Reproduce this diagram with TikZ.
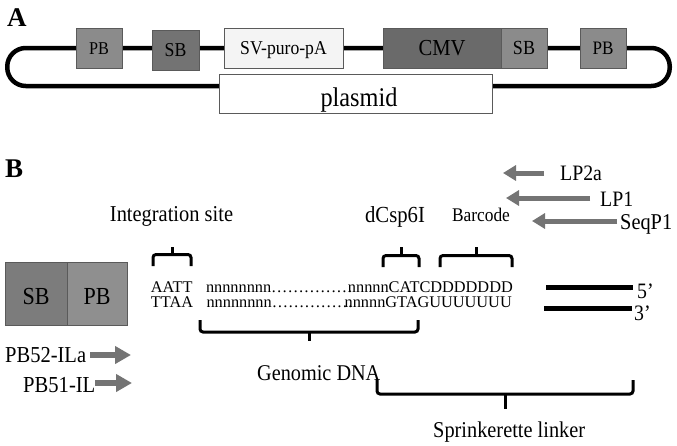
\documentclass[tikz,border=0pt]{standalone}
\usepackage{fontspec}
\setmainfont{Liberation Serif}
\newfontfamily\labfont{Liberation Serif}[FakeStretch=0.9]
\usetikzlibrary{arrows.meta}
\definecolor{pbgray}{HTML}{8B8B8B}
\definecolor{sbdark}{HTML}{737373}
\definecolor{cmvgray}{HTML}{6A6A6A}
\definecolor{svlight}{HTML}{F4F4F4}
\definecolor{bsbgray}{HTML}{7C7C7C}
\definecolor{bpbgray}{HTML}{8F8F8F}
\definecolor{boxline}{HTML}{5A5A5A}
\definecolor{arrowgray}{HTML}{747474}
\newcommand\fs[1]{\fontsize{#1}{#1}\selectfont}
\begin{document}
\begin{tikzpicture}[x=1pt,y=-1pt,
  lbl/.style={inner sep=0pt, font=\labfont},
  box/.style={draw=boxline, line width=0.8pt, inner sep=0pt, minimum height=40pt, font=\labfont, text depth=0pt},
  loopline/.style={line width=4.5pt, rounded corners=18.5pt},
  brk/.style={line width=3pt, rounded corners=3pt},
  brktip/.style={line width=3pt},
  primer/.style={draw=arrowgray, line width=5pt, -{Triangle[length=13pt,width=15pt]}},
  primerb/.style={draw=arrowgray, line width=6pt, -{Triangle[length=16pt,width=17pt]}},
  strand/.style={line width=5pt},
  seq/.style={inner sep=0pt, font=\fs{16.3}}
]
\useasboundingbox (0,0) rectangle (677,445);
\fill[white] (0,0) rectangle (677,445);

% ---------- Part A ----------
\node[inner sep=0pt, anchor=base west, font=\fs{27}\bfseries] (labA) at (7,26) {A};
\draw[loopline] (7.25,48) rectangle (669.75,86);

\node[box, fill=pbgray, minimum width=46pt, text height=12pt] (pb1) at (99,48) {\fs{18}PB};
\node[box, fill=sbdark, minimum width=47pt, text height=13pt] (sb1) at (175.5,50) {\fs{19.7}SB};
\node[box, fill=svlight, minimum width=119pt, text height=13pt] (sv) at (283.5,48) {\fs{19.6}SV-puro-pA};
\node[box, fill=cmvgray, minimum width=118pt, text height=15pt] (cmv) at (442,48) {\fs{22.9}CMV};
\node[box, fill=pbgray, minimum width=46pt, text height=13pt] (sb2) at (524,48) {\fs{20}SB};
\node[box, fill=pbgray, minimum width=46pt, text height=13pt] (pb2) at (603,48) {\fs{19}PB};
\node[box, fill=white, minimum width=273pt, minimum height=39pt, text height=18pt] (plasmid) at (355.5,93.5) {\hspace{7pt}\raisebox{-4pt}{\fs{27}plasmid}};

% ---------- Part B ----------
\node[inner sep=0pt, anchor=base west, font=\fs{27}\bfseries] (labB) at (5,177) {B};

\node[box, fill=bsbgray, minimum width=62pt, minimum height=63pt, text height=16pt] (bsb) at (36,293.5) {\raisebox{-3pt}{\fs{24.5}SB}};
\node[box, fill=bpbgray, minimum width=60pt, minimum height=63pt, text height=16pt] (bpb) at (97,293.5) {\raisebox{-3pt}{\fs{24.5}PB}};

% labels above
\node[lbl, anchor=base] (intsite) at (171.5,221) {\fs{22.7}Integration site};
\node[lbl, anchor=base] (dcsp) at (395,222.7) {\fs{23}dCsp6I};
\node[lbl, anchor=base] (barcode) at (481,221.7) {\fs{19.3}Barcode};

% primers (right)
\node[lbl, anchor=base west] (lp2a) at (560,180) {\fs{22}LP2a};
\node[lbl, anchor=base west] (lp1) at (600,206) {\fs{22}LP1};
\node[lbl, anchor=base west] (seqp1) at (620,229.3) {\fs{22.6}SeqP1};
\coordinate (lp2aT) at (544,173); \coordinate (lp2aH) at (503,173);
\coordinate (lp1T) at (590,198);  \coordinate (lp1H) at (506,198);
\coordinate (seqT) at (617,221);  \coordinate (seqH) at (532,221);
\draw[primer] (lp2aT) -- (lp2aH);
\draw[primer] (lp1T) -- (lp1H);
\draw[primer] (seqT) -- (seqH);

% primers (left)
\node[lbl, anchor=base west] (pb52) at (5,362) {\fs{22.8}PB52-ILa};
\node[lbl, anchor=base west] (pb51) at (23,392) {\fs{22.9}PB51-IL};
\coordinate (pb52T) at (90,355);  \coordinate (pb52H) at (131,355);
\coordinate (pb51T) at (95,383);  \coordinate (pb51H) at (132,383);
\draw[primerb] (pb52T) -- (pb52H);
\draw[primerb] (pb51T) -- (pb51H);

% braces above sequence
\draw[brk] (153,266) -- (153,254.5) -- (191,254.5) -- (191,266);
\draw[brktip] (172,255) -- (172,247);
\draw[brk] (383,267) -- (383,255.5) -- (419,255.5) -- (419,267);
\draw[brktip] (401,256) -- (401,247);
\draw[brk] (440,267) -- (440,255.5) -- (512,255.5) -- (512,267);
\draw[brktip] (476,256) -- (476,247);

% sequence
\node[seq, anchor=base west] (s1a) at (150.7,292) {AATT\hspace{13.5pt}nnnnnnnn……………};
\node[seq, anchor=base east] (s1b) at (513,292) {nnnnnCATCDDDDDDD};
\node[seq, anchor=base west] (s2a) at (150.7,307) {TTAA\hspace{13.5pt}nnnnnnnn……………};
\node[seq, anchor=base east] (s2b) at (512,307) {nnnnnGTAGUUUUUUU};

% strands
\coordinate (f5a) at (546,287); \coordinate (f5b) at (633,287);
\coordinate (f3a) at (544,308); \coordinate (f3b) at (632,308);
\draw[strand] (f5a) -- (f5b);
\draw[strand] (f3a) -- (f3b);
\node[lbl, anchor=base west] (p5) at (637,298) {\fs{22}5’};
\node[lbl, anchor=base west] (p3) at (634,320.5) {\fs{22}3’};

% braces below
\draw[brk] (200,320) -- (200,332) -- (418,332) -- (418,320);
\draw[brktip] (309,331.5) -- (309,341);
\node[lbl, anchor=base west] (genomic) at (257,380) {\fs{22.5}Genomic DNA};
\draw[brk] (377,380) -- (377,394) -- (633,394) -- (633,380);
\draw[brktip] (505,393.5) -- (505,409);
\node[lbl, anchor=base west] (sprink) at (433,437) {\fs{22.6}Sprinkerette linker};
\end{tikzpicture}
\end{document}
